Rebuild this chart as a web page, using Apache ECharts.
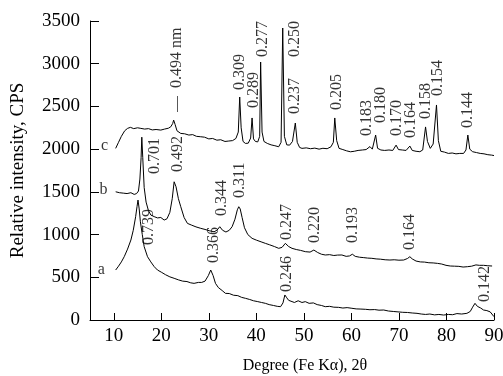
<!DOCTYPE html>
<html>
<head>
<meta charset="utf-8">
<script src="https://cdn.jsdelivr.net/npm/echarts@6/dist/echarts.min.js"></script>
<style>
html, body { margin: 0; padding: 0; background: #fff; }
#main { width: 503px; height: 376px; }
</style>
</head>
<body>
<div id="main"></div>
<script>
// 2theta (deg), intensity (CPS)
var curveA = [
  [10.4, 585], [11.0, 630], [11.6, 680], [12.2, 741], [12.9, 830], [13.6, 936], [14.1, 1050],
  [14.6, 1209], [14.9, 1330], [15.1, 1404], [15.35, 1300], [15.6, 1150], [16.0, 1000], [16.4, 858],
  [17.1, 741], [17.8, 680], [18.5, 625], [19.2, 585], [20.0, 560], [20.9, 530], [21.8, 505],
  [22.7, 488], [23.6, 470], [24.5, 455], [25.4, 450], [26.2, 435], [26.9, 429], [27.8, 440],
  [28.5, 440], [29.2, 455], [29.9, 520], [30.4, 585], [30.9, 520], [31.4, 429], [32.0, 380],
  [32.8, 345], [33.5, 312], [34.3, 310], [35.2, 290], [36.1, 285], [36.9, 265], [37.7, 254],
  [38.6, 240], [39.4, 225], [40.3, 215], [41.1, 205], [41.9, 195], [42.7, 180], [43.6, 170],
  [44.4, 160], [45.1, 156], [45.6, 200], [46.0, 293], [46.4, 260], [46.8, 230], [47.2, 215],
  [48.0, 205], [48.8, 225], [49.6, 205], [50.3, 215], [51.1, 195], [52.0, 200], [52.8, 180],
  [53.7, 170], [54.5, 156], [55.4, 160], [56.3, 150], [57.3, 148], [58.2, 140], [59.1, 145],
  [60.1, 137], [61.0, 130], [62.0, 128], [63.0, 125], [63.9, 120], [64.9, 122], [65.8, 115],
  [66.8, 117], [67.8, 105], [68.8, 100], [69.8, 95], [70.8, 90], [71.8, 88], [72.8, 82],
  [73.8, 78], [74.7, 70], [75.6, 65], [76.5, 70], [77.5, 60], [78.4, 65], [79.4, 58],
  [80.4, 65], [81.3, 62], [82.2, 75], [83.2, 70], [84.3, 78], [85.0, 100], [85.5, 150],
  [86.0, 195], [86.5, 160], [87.2, 140], [87.8, 117], [88.5, 110], [89.2, 95], [89.6, 78], [90.0, 39]
];

var curveB = [
  [10.4, 1501], [11.2, 1490], [12.0, 1485], [12.8, 1480], [13.6, 1490], [14.3, 1470], [14.8, 1480],
  [15.2, 1510], [15.5, 1650], [15.75, 1900], [15.9, 2140], [16.1, 1900], [16.4, 1550], [16.8, 1380],
  [17.3, 1280], [17.8, 1229], [18.5, 1210], [19.2, 1195], [19.9, 1200], [20.6, 1170], [21.2, 1185],
  [21.8, 1260], [22.3, 1420], [22.7, 1618], [23.1, 1560], [23.6, 1420], [24.1, 1326], [24.8, 1200],
  [25.5, 1131], [26.4, 1110], [27.3, 1090], [28.3, 1073], [29.2, 1060], [30.1, 1045], [31.1, 1033],
  [31.7, 1050], [32.3, 1092], [32.9, 1050], [33.6, 1030], [34.3, 1050], [34.9, 1092], [35.5, 1180],
  [36.0, 1290], [36.3, 1326], [36.6, 1300], [37.0, 1200], [37.5, 1080], [38.2, 1000], [39.1, 956],
  [40.0, 935], [41.0, 915], [41.9, 897], [42.8, 880], [43.8, 860], [44.7, 839], [45.4, 850],
  [46.1, 897], [46.8, 860], [47.5, 839], [48.4, 825], [49.3, 815], [50.3, 800], [51.3, 795],
  [52.1, 819], [52.9, 790], [53.7, 770], [54.5, 761], [55.4, 765], [56.3, 755], [57.1, 760],
  [58.0, 761], [58.9, 745], [59.6, 750], [60.2, 770], [60.8, 745], [61.7, 735], [62.6, 730],
  [63.4, 725], [64.3, 722], [65.2, 715], [66.1, 712], [67.1, 705], [68.1, 702], [69.0, 705],
  [70.0, 700], [71.0, 702], [71.8, 720], [72.3, 741], [72.8, 715], [73.6, 690], [74.5, 680],
  [75.4, 678], [76.3, 670], [77.2, 668], [78.1, 663], [79.0, 655], [79.9, 640], [80.8, 632],
  [81.7, 630], [82.6, 628], [83.5, 620], [84.4, 624], [85.3, 630], [86.2, 645], [86.9, 640],
  [87.8, 640], [88.7, 635], [89.6, 632]
];

var curveC = [
  [10.4, 2009], [11.0, 2080], [11.6, 2150], [12.3, 2215], [12.9, 2243], [13.5, 2255], [14.2, 2240],
  [15.0, 2250], [15.7, 2243], [16.5, 2235], [17.3, 2240], [18.1, 2225], [18.9, 2230], [19.9, 2223],
  [20.7, 2235], [21.5, 2245], [22.0, 2262], [22.4, 2300], [22.6, 2340], [22.9, 2290], [23.3, 2215],
  [24.1, 2184], [24.9, 2180], [25.8, 2165], [26.6, 2170], [27.4, 2150], [28.3, 2145], [29.1, 2140],
  [30.0, 2120], [30.8, 2125], [31.7, 2105], [32.5, 2110], [33.4, 2090], [34.2, 2095], [35.0, 2100],
  [35.7, 2125], [36.2, 2200], [36.5, 2610], [36.8, 2250], [37.2, 2090], [37.7, 2067], [38.3, 2070],
  [38.8, 2130], [39.1, 2365], [39.4, 2120], [39.8, 2090], [40.3, 2085], [40.7, 2150], [40.9, 3020],
  [41.2, 2200], [41.6, 2090], [42.3, 2067], [43.1, 2050], [43.9, 2040], [44.7, 2028], [45.2, 2080],
  [45.55, 3418], [45.9, 2150], [46.4, 2050], [47.0, 2047], [47.6, 2090], [48.2, 2306], [48.6, 2080],
  [49.1, 2020], [49.6, 2009], [50.5, 2015], [51.4, 2005], [52.3, 2012], [53.2, 2000], [54.0, 2010],
  [54.9, 2005], [55.7, 2028], [56.2, 2080], [56.5, 2365], [56.9, 2100], [57.4, 2009], [58.2, 1995],
  [59.0, 1980], [59.8, 1969], [60.6, 1975], [61.4, 1985], [62.3, 1990], [63.1, 1995], [63.9, 2030],
  [64.4, 2000], [64.8, 2020], [65.1, 2165], [65.5, 2010], [66.2, 1990], [67.0, 1985], [67.9, 1990],
  [68.7, 1985], [69.4, 2047], [69.9, 1995], [70.7, 1990], [71.5, 1985], [72.3, 2036], [72.8, 1985],
  [73.6, 1975], [74.4, 1970], [75.0, 1990], [75.6, 2260], [76.0, 2090], [76.6, 2009], [77.2, 2060],
  [77.9, 2517], [78.3, 2100], [78.8, 1975], [79.6, 1965], [80.4, 1950], [81.2, 1955], [82.0, 1945],
  [82.8, 1950], [83.6, 1950], [84.1, 1990], [84.5, 2165], [84.9, 2000], [85.5, 1970], [86.3, 1960],
  [87.1, 1950], [87.9, 1945], [88.7, 1935], [89.5, 1930], [90.0, 1925]
];

// d-spacing labels: [2theta, intensity at the foot of the text, text]
var peakLabels = [
  [23.17, 2435, '\u2014  0.494 nm'], [36.62, 2692, '0.309'], [39.55, 2482, '0.289'],
  [41.44, 3079, '0.277'], [48.17, 3079, '0.250'], [48.17, 2411, '0.237'], [56.93, 2458, '0.205'],
  [63.3, 2154, '0.183'], [66.24, 2306, '0.180'], [69.5, 2154, '0.170'], [72.44, 2130, '0.164'],
  [75.7, 2353, '0.158'], [78.1, 2622, '0.154'], [84.4, 2248, '0.144'],
  [18.55, 1709, '0.701'], [23.38, 1732, '0.492'], [32.77, 1217, '0.344'], [36.62, 1428, '0.311'],
  [46.43, 936, '0.247'], [52.37, 901, '0.220'], [60.25, 901, '0.193'], [72.33, 819, '0.164'],
  [17.35, 878, '0.739'], [31.0, 667, '0.366'], [46.43, 328, '0.246'], [88.1, 211, '0.142']
];

var curveNames = [[8.04, 2037, 'c'], [7.84, 1522, 'b'], [7.4, 585, 'a']];

var xTicks = [10, 20, 30, 40, 50, 60, 70, 80, 90];

var font = 'Liberation Serif';
var chart = echarts.init(document.getElementById('main'));

function curve(data) {
  return {
    type: 'line',
    data: data,
    symbol: 'none',
    silent: true,
    lineStyle: { color: '#000', width: 1 }
  };
}

var option = {
  animation: false,
  backgroundColor: '#fff',
  grid: { left: 90, right: 9, top: 21, bottom: 56, outerBoundsMode: 'none' },
  xAxis: {
    type: 'value',
    min: 5,
    max: 90,
    name: 'Degree (Fe K\u03b1), 2\u03b8',
    nameLocation: 'middle',
    nameGap: 38,
    nameTextStyle: { fontFamily: font, fontSize: 16, color: '#000', padding: [0, 0, 0, 26] },
    axisLine: { lineStyle: { color: '#000', width: 1 } },
    axisTick: { inside: true, length: 7, customValues: xTicks, lineStyle: { color: '#000' } },
    axisLabel: { customValues: xTicks, margin: 7, fontFamily: font, fontSize: 19, color: '#000' },
    splitLine: { show: false }
  },
  yAxis: {
    type: 'value',
    min: 0,
    max: 3500,
    interval: 500,
    name: 'Relative intensity, CPS',
    nameLocation: 'middle',
    nameGap: 62,
    nameTextStyle: { fontFamily: font, fontSize: 19, color: '#000' },
    axisLine: { show: true, lineStyle: { color: '#000', width: 1 } },
    axisTick: { show: true, inside: true, length: 9, lineStyle: { color: '#000' } },
    axisLabel: {
      margin: 10, fontFamily: font, fontSize: 19, color: '#000',
      formatter: function (v) { return String(v); }
    },
    splitLine: { show: false }
  },
  series: [
    curve(curveA),
    curve(curveB),
    curve(curveC),
    {
      type: 'scatter',
      data: peakLabels,
      symbolSize: 0,
      silent: true,
      label: {
        show: true,
        position: 'inside',
        rotate: 90,
        align: 'left',
        verticalAlign: 'middle',
        fontFamily: font,
        fontSize: 16,
        color: '#000',
        formatter: function (p) { return p.value[2]; }
      }
    },
    {
      type: 'scatter',
      data: curveNames,
      symbolSize: 0,
      silent: true,
      label: {
        show: true,
        position: 'inside',
        fontFamily: font,
        fontSize: 16,
        color: '#000',
        formatter: function (p) { return p.value[2]; }
      }
    }
  ]
};

chart.setOption(option);
</script>
</body>
</html>
